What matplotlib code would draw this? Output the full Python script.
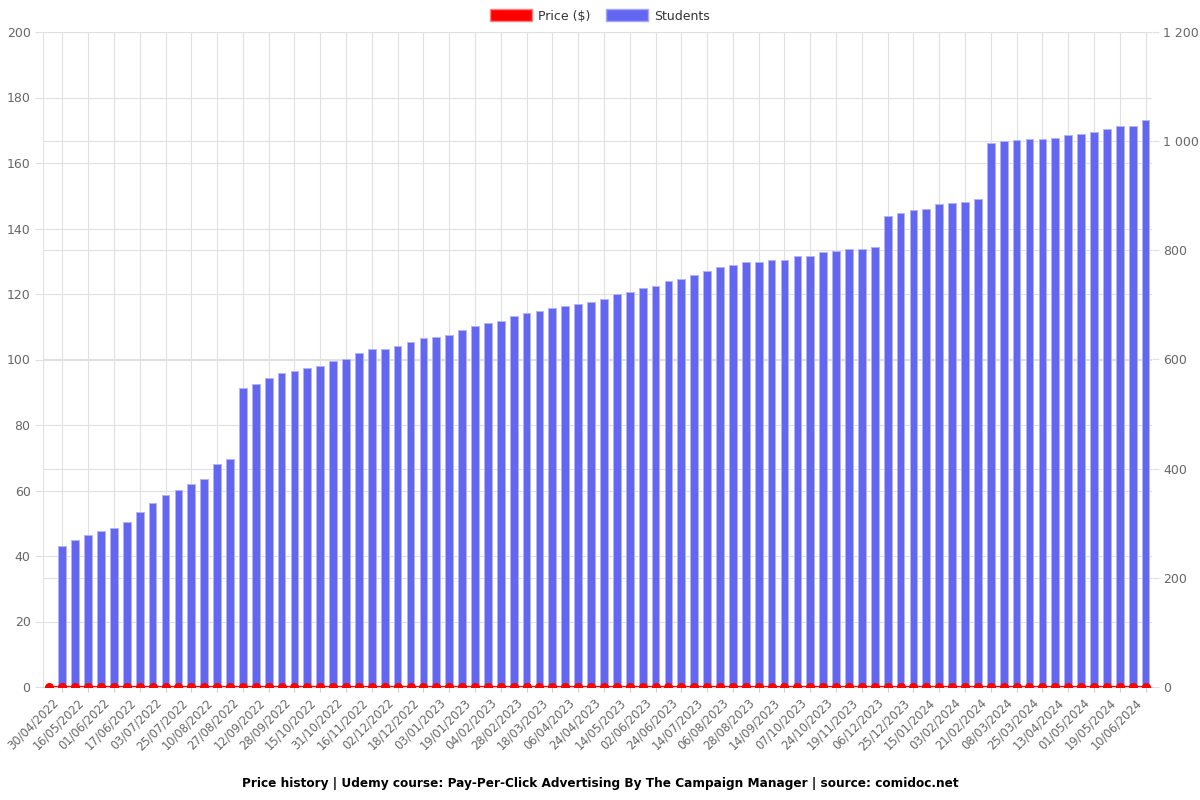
import matplotlib
matplotlib.use("Agg")
import matplotlib.pyplot as plt
from matplotlib.patches import Patch
from matplotlib.ticker import FuncFormatter
from matplotlib.transforms import ScaledTranslation
import numpy as np

# ---- data ----
tick_labels = [
    "30/04/2022", "16/05/2022", "01/06/2022", "17/06/2022", "03/07/2022", "25/07/2022",
    "10/08/2022", "27/08/2022", "12/09/2022", "28/09/2022", "15/10/2022", "31/10/2022",
    "16/11/2022", "02/12/2022", "18/12/2022", "03/01/2023", "19/01/2023", "04/02/2023",
    "28/02/2023", "18/03/2023", "06/04/2023", "24/04/2023", "14/05/2023", "02/06/2023",
    "24/06/2023", "14/07/2023", "06/08/2023", "28/08/2023", "14/09/2023", "07/10/2023",
    "24/10/2023", "19/11/2023", "06/12/2023", "25/12/2023", "15/01/2024", "03/02/2024",
    "21/02/2024", "08/03/2024", "25/03/2024", "13/04/2024", "01/05/2024", "19/05/2024",
    "10/06/2024",
]

students = [
    0, 259, 269, 278, 285, 291, 303, 320, 338, 351,
    361, 372, 381, 409, 417, 547, 555, 566, 576, 579,
    584, 588, 597, 601, 612, 619, 620, 625, 632, 639,
    641, 645, 654, 661, 666, 671, 680, 686, 689, 694,
    698, 702, 705, 711, 720, 724, 731, 735, 743, 748,
    754, 763, 770, 773, 779, 779, 782, 782, 789, 790,
    797, 799, 802, 803, 806, 863, 868, 873, 876, 885,
    887, 889, 894, 997, 1000, 1003, 1004, 1004, 1006, 1011,
    1013, 1016, 1023, 1027, 1028, 1039,
]

price = [0] * len(students)

# ---- figure ----
fig = plt.figure(figsize=(12, 8), dpi=100)
ax = fig.add_axes([43 / 1200, 1 - 687 / 800, (1152 - 43) / 1200, (687 - 32) / 800])
ax2 = ax.twinx()
ax3 = ax.twinx()

x = np.arange(len(students))
grid_c = "#e0e0e0"
text_c = "#666666"

# back axis: left scale + vertical grid
ax.set_xlim(-0.5, len(students) - 0.5)
ax.set_ylim(0, 200)
ax.set_yticks(np.arange(0, 201, 20))
tick_pos = x[1::2]
ax.set_xticks(tick_pos)
ax.set_xticklabels([])
label_tr = ax.get_xaxis_transform() + ScaledTranslation(-6 / 100, -14 / 100, fig.dpi_scale_trans)
for pos, lab in zip(tick_pos, tick_labels):
    ax.text(pos, 0, lab, transform=label_tr, rotation=45, ha="right", va="center",
            rotation_mode="anchor", fontsize=8.3, color=text_c, clip_on=False)
ax.grid(True, axis="both", color=grid_c, linewidth=0.8)
ax.tick_params(axis="y", colors=grid_c, labelcolor=text_c, labelsize=9, length=6, pad=3)
ax.tick_params(axis="x", colors="#cccccc", length=3.6)
for s in ["top", "right", "left"]:
    ax.spines[s].set_visible(False)
ax.spines["bottom"].set_color("#cccccc")
ax.axvline(-0.5, color=grid_c, linewidth=0.8)

# students bars on right scale
ax2.set_ylim(0, 1200)
ax2.set_yticks(np.arange(0, 1201, 200))
ax2.yaxis.set_major_formatter(FuncFormatter(lambda v, p: f"{int(v):,}".replace(",", " ")))
ax2.set_axisbelow(True)
ax2.grid(True, axis="y", color=grid_c, linewidth=0.8)
ax2.bar(x, students, width=0.6, color="#6366f1", edgecolor="#b3b5f8", linewidth=0.7, zorder=2)
ax2.tick_params(axis="y", colors=grid_c, labelcolor=text_c, labelsize=9, length=5, pad=3)
for s in ax2.spines.values():
    s.set_visible(False)

# price line on top
ax3.set_ylim(0, 200)
ax3.plot(x, price, color="#ff0000", linewidth=1.6, marker="o", markersize=5.5, zorder=3)
ax3.set_yticks([])
for s in ax3.spines.values():
    s.set_visible(False)

# legend
handles = [Patch(facecolor="#ff0000", edgecolor="#ff8080", label="Price ($)"),
           Patch(facecolor="#6366f1", edgecolor="#a5a8f7", label="Students")]
fig.legend(handles=handles, loc="center", bbox_to_anchor=(0.5, 1 - 16 / 800), ncol=2,
           frameon=False, fontsize=9, handlelength=3.4, handleheight=1.1,
           columnspacing=1.2, handletextpad=0.5, labelcolor="#333333")

fig.text(0.5, 1 - 783 / 800,
         "Price history | Udemy course: Pay-Per-Click Advertising By The Campaign Manager | source: comidoc.net",
         ha="center", va="center", fontsize=8.7, fontweight="bold", color="#000000")

fig.savefig("out.png", dpi=100)
